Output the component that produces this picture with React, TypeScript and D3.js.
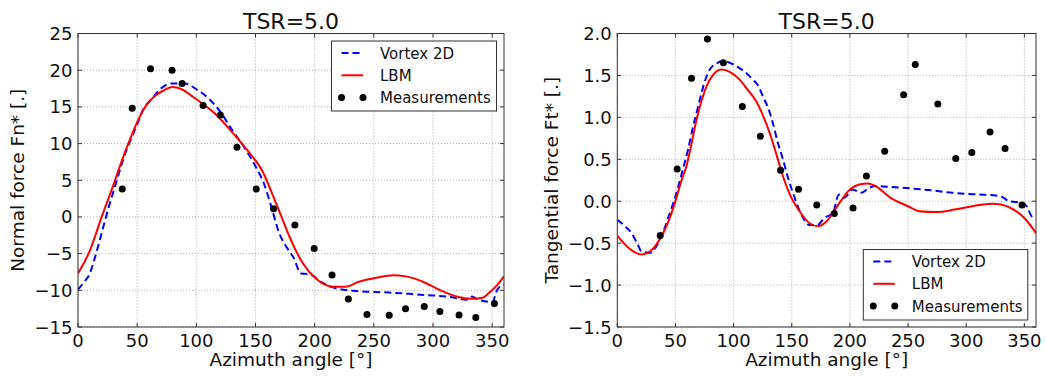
import React from 'react';
import * as d3 from 'd3';

// azimuth angles in degrees, forces
const normalMeasAngles = [37.4, 45.8, 61.3, 79.5, 88, 105.7, 120.3, 134.3, 150.6, 165.3, 183.3, 199.6, 214.7, 228.5, 244.2, 263, 276.8, 292.6, 305.8, 322, 336.2, 351.9];
const normalMeas = [3.8, 14.8, 20.2, 20.0, 18.2, 15.2, 13.9, 9.5, 3.8, 1.1, -1.1, -4.3, -7.9, -11.2, -13.3, -13.4, -12.5, -12.2, -12.9, -13.35, -13.7, -11.8];

const normalLbmAngles = [0, 10, 20, 30, 36, 44, 52, 60, 66, 73, 80, 89, 96, 103, 117, 131, 145, 156, 165, 173, 179, 190, 201, 215, 226, 238, 252, 266, 277, 291, 305, 319, 333, 342, 347, 353, 360];
const normalLbm = [-7.7, -4.6, 0, 4.4, 7.2, 10.6, 13.6, 15.7, 16.6, 17.3, 17.7, 17.3, 16.5, 15.7, 13.9, 11.4, 8.7, 6.2, 2.8, -0.4, -2.8, -6.3, -8.4, -9.5, -9.5, -8.8, -8.3, -7.95, -8.1, -8.8, -9.9, -10.8, -11.15, -11.0, -10.4, -9.5, -8.1];

const normalVortexAngles = [0, 5, 10, 14, 18.5, 23, 27, 31, 35.4, 40, 45.3, 50, 55, 63, 70, 80, 90, 100, 110, 120, 130, 140, 150, 157, 163, 170, 175, 182, 188.6, 195.6, 206.9, 215, 235, 263, 290, 305, 318, 328.5, 333, 337, 350, 354.4, 360];
const normalVortex = [-9.9, -8.9, -7.7, -5.7, -3.1, -0.4, 1.9, 4.0, 6.4, 8.7, 10.8, 12.6, 14.6, 16.2, 17.5, 18.2, 18.2, 17.4, 16.2, 14.4, 11.9, 9.6, 6.9, 4.6, 1.6, -2.2, -3.8, -5.5, -7.7, -7.8, -9.0, -9.6, -10.1, -10.3, -10.6, -10.76, -11.0, -11.3, -10.85, -11.2, -11.6, -9.9, -9.2];

const tangMeasAngles = [36.9, 51.5, 63.8, 77.5, 91.2, 107.5, 123, 140.4, 155.8, 171.5, 186.6, 202.7, 214.2, 229.9, 246.2, 256.2, 275.6, 291, 304.8, 320.5, 333.4, 348];
const tangMeas = [-0.41, 0.385, 1.466, 1.935, 1.65, 1.128, 0.775, 0.37, 0.143, -0.044, -0.147, -0.08, 0.3, 0.596, 1.27, 1.63, 1.16, 0.51, 0.58, 0.826, 0.628, -0.044];

const tangLbmAngles = [0, 10, 20.9, 28, 38, 44, 49.5, 55, 59.5, 64, 68.1, 72.5, 76.7, 82, 89.5, 97, 105.2, 112, 119.5, 125, 131, 137, 142.4, 149, 156.7, 165, 172.4, 180, 190, 200, 208, 215.3, 222, 235, 250, 260, 274, 290, 305, 322.5, 330, 339.6, 350, 360];
const tangLbm = [-0.41, -0.56, -0.635, -0.6, -0.417, -0.24, -0.02, 0.24, 0.42, 0.7, 0.97, 1.2, 1.37, 1.5, 1.57, 1.54, 1.45, 1.33, 1.19, 1.03, 0.815, 0.55, 0.3, 0.06, -0.12, -0.26, -0.3, -0.24, -0.04, 0.14, 0.2, 0.21, 0.18, 0.04, -0.06, -0.12, -0.13, -0.1, -0.06, -0.03, -0.04, -0.09, -0.2, -0.38];

const tangVortexAngles = [0, 6, 12.3, 17, 20.9, 28, 33, 39, 45, 50.9, 56, 60.9, 65, 69.5, 75, 79.5, 85, 89.5, 95, 102.4, 109, 116.6, 121, 125.2, 130, 133.8, 138, 142.4, 147, 151, 158, 165.3, 172, 178, 185.3, 190.6, 194.9, 202.4, 209.6, 216.7, 222.5, 235, 245.3, 270, 288.2, 310, 325.4, 331, 336.8, 348.2, 352, 355.4, 358];
const tangVortex = [-0.22, -0.29, -0.38, -0.5, -0.6, -0.615, -0.55, -0.38, -0.15, 0.1, 0.36, 0.62, 0.88, 1.13, 1.42, 1.57, 1.64, 1.67, 1.66, 1.61, 1.55, 1.45, 1.38, 1.25, 1.1, 0.93, 0.7, 0.5, 0.27, 0.1, -0.15, -0.285, -0.285, -0.2, -0.14, 0.08, 0.04, 0.14, 0.1, 0.16, 0.18, 0.17, 0.16, 0.13, 0.1, 0.08, 0.068, 0.05, 0.0, -0.02, -0.06, -0.16, -0.22];

const angleTicks = [0, 50, 100, 150, 200, 250, 300, 350];
const normalTicks = [-15, -10, -5, 0, 5, 10, 15, 20, 25];
const tangTicks = [-1.5, -1.0, -0.5, 0.0, 0.5, 1.0, 1.5, 2.0];
const legendLabels = ['Vortex 2D', 'LBM', 'Measurements'];

const FONT = 'DejaVu Sans, sans-serif';
const zip = (xs: number[], ys: number[]) => xs.map((x, i) => [x, ys[i]] as [number, number]);

type PanelProps = {
  left: number; right: number; top: number; bottom: number;
  yDomain: [number, number]; yTicks: number[]; yFmt: (v: number) => string;
  yLabel: string; yLabelX: number;
  vortex: [number, number][]; lbm: [number, number][]; meas: [number, number][];
  legend: { x: number; y: number; w: number; h: number };
};

const Panel = (p: PanelProps) => {
  const x = d3.scaleLinear().domain([0, 360]).range([p.left, p.right]);
  const y = d3.scaleLinear().domain(p.yDomain).range([p.bottom, p.top]);
  const line = d3.line<[number, number]>().x((d) => x(d[0])).y((d) => y(d[1])).curve(d3.curveMonotoneX);
  const cx = (p.left + p.right) / 2;
  const cy = (p.top + p.bottom) / 2;
  const lg = p.legend;
  const rowY = (i: number) => lg.y + 12 + i * 22.3;
  const sx0 = lg.x + 10;
  const sx1 = lg.x + 31.5;

  return (
    <g>
      <defs>
        <clipPath id={`clip-${p.left}`}>
          <rect x={p.left} y={p.top} width={p.right - p.left} height={p.bottom - p.top} />
        </clipPath>
      </defs>
      {/* grid */}
      {angleTicks.map((t) => (
        <line key={`gx${t}`} x1={x(t)} x2={x(t)} y1={p.top} y2={p.bottom} stroke="#999" strokeWidth={0.8} strokeDasharray="1,2" />
      ))}
      {p.yTicks.map((t) => (
        <line key={`gy${t}`} x1={p.left} x2={p.right} y1={y(t)} y2={y(t)} stroke="#999" strokeWidth={0.8} strokeDasharray="1,2" />
      ))}
      <g clipPath={`url(#clip-${p.left})`}>
        <path d={line(p.vortex) || ''} fill="none" stroke="#0000ff" strokeWidth={2} strokeDasharray="7,4" />
        <path d={line(p.lbm) || ''} fill="none" stroke="#ff0000" strokeWidth={2} />
      </g>
      {p.meas.map((d, i) => (
        <circle key={`m${i}`} cx={x(d[0])} cy={y(d[1])} r={3.5} fill="#000" />
      ))}
      {/* frame and inward ticks */}
      <rect x={p.left} y={p.top} width={p.right - p.left} height={p.bottom - p.top} fill="none" stroke="#333" strokeWidth={1} />
      {angleTicks.map((t) => (
        <g key={`tx${t}`}>
          <line x1={x(t)} x2={x(t)} y1={p.bottom} y2={p.bottom - 4} stroke="#333" />
          <line x1={x(t)} x2={x(t)} y1={p.top} y2={p.top + 4} stroke="#333" />
          <text x={x(t)} y={p.bottom + 20} textAnchor="middle" fontSize={18} fontFamily={FONT} fill="#111">{t}</text>
        </g>
      ))}
      {p.yTicks.map((t) => (
        <g key={`ty${t}`}>
          <line x1={p.left} x2={p.left + 4} y1={y(t)} y2={y(t)} stroke="#333" />
          <line x1={p.right} x2={p.right - 4} y1={y(t)} y2={y(t)} stroke="#333" />
          <text x={p.left - 5.5} y={y(t) + 6.5} textAnchor="end" fontSize={18} fontFamily={FONT} fill="#111">{p.yFmt(t)}</text>
        </g>
      ))}
      <text x={cx} y={29} textAnchor="middle" fontSize={22} fontFamily={FONT} fill="#111">TSR=5.0</text>
      <text x={cx} y={366} textAnchor="middle" fontSize={18.5} fontFamily={FONT} fill="#111">Azimuth angle [°]</text>
      <text transform={`translate(${p.yLabelX},${cy}) rotate(-90)`} textAnchor="middle" fontSize={18.5} fontFamily={FONT} fill="#111">{p.yLabel}</text>
      {/* legend */}
      <rect x={lg.x} y={lg.y} width={lg.w} height={lg.h} fill="#fff" stroke="#333" strokeWidth={1} />
      <line x1={sx0} x2={sx1} y1={rowY(0)} y2={rowY(0)} stroke="#0000ff" strokeWidth={2} strokeDasharray="7,4" />
      <line x1={sx0} x2={sx1} y1={rowY(1)} y2={rowY(1)} stroke="#ff0000" strokeWidth={2} />
      <circle cx={sx0} cy={rowY(2)} r={3.5} fill="#000" />
      <circle cx={sx1} cy={rowY(2)} r={3.5} fill="#000" />
      {legendLabels.map((l, i) => (
        <text key={l} x={lg.x + 48.5} y={rowY(i) + 5.5} fontSize={15} fontFamily={FONT} fill="#111">{l}</text>
      ))}
    </g>
  );
};

const App = () => {
  const intFmt = d3.format('d');
  const oneFmt = d3.format('.1f');
  return (
    <svg width={1046} height={376} style={{ position: 'absolute', left: 0, top: 0, background: '#fff' }}>
      <rect width={1046} height={376} fill="#fff" />
      <Panel
        left={78} right={504} top={33.5} bottom={327}
        yDomain={[-15, 25]} yTicks={normalTicks} yFmt={intFmt}
        yLabel="Normal force Fn* [.]" yLabelX={24}
        vortex={zip(normalVortexAngles, normalVortex)}
        lbm={zip(normalLbmAngles, normalLbm)}
        meas={zip(normalMeasAngles, normalMeas)}
        legend={{ x: 331.5, y: 41, w: 165, h: 70 }}
      />
      <Panel
        left={617.3} right={1036} top={33.5} bottom={327}
        yDomain={[-1.5, 2.0]} yTicks={tangTicks} yFmt={oneFmt}
        yLabel="Tangential force Ft* [.]" yLabelX={558}
        vortex={zip(tangVortexAngles, tangVortex)}
        lbm={zip(tangLbmAngles, tangLbm)}
        meas={zip(tangMeasAngles, tangMeas)}
        legend={{ x: 863.3, y: 249.5, w: 164.5, h: 70.5 }}
      />
    </svg>
  );
};

export default App;
